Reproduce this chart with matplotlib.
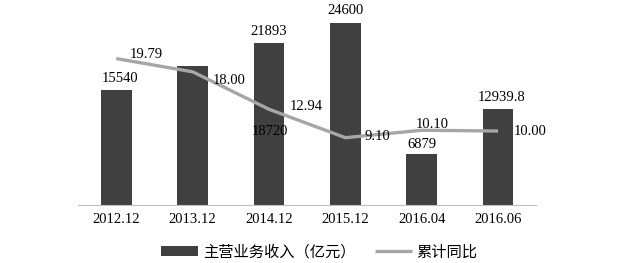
import matplotlib
matplotlib.use("Agg")
import matplotlib.pyplot as plt

plt.rcParams['font.family'] = ['Liberation Serif', 'Noto Sans CJK SC']

periods = ['2012.12', '2013.12', '2014.12', '2015.12', '2016.04', '2016.06']
revenue = [15540, 18720, 21893, 24600, 6879, 12939.8]
revenue_labels = ['15540', '18720', '21893', '24600', '6879', '12939.8']
growth = [19.79, 18.00, 12.94, 9.10, 10.10, 10.00]
growth_labels = ['19.79', '18.00', '12.94', '9.10', '10.10', '10.00']

bar_color = '#404040'
line_color = '#a6a6a6'

fig = plt.figure(figsize=(6.25, 2.63), dpi=100)
ax = fig.add_axes([0.125, 0.2205, 0.733, 0.7034])
ax2 = ax.twinx()

x = list(range(len(periods)))
bars = ax.bar(x, revenue, width=0.4, color=bar_color, label='主营业务收入（亿元）', zorder=2)
line, = ax2.plot(x, growth, color=line_color, linewidth=2.4, label='累计同比',
                 solid_capstyle='butt', zorder=3)

ax.set_xlim(-0.5, len(periods) - 0.5)
ax.set_ylim(0, 25000)
ax2.set_ylim(0, 25)

for a in (ax, ax2):
    for s in ('top', 'right', 'left'):
        a.spines[s].set_visible(False)
    a.set_yticks([])
ax2.spines['bottom'].set_visible(False)
ax.spines['bottom'].set_color('#bfbfbf')
ax.set_xticks(x)
ax.set_xticklabels(periods, fontsize=10.5)
ax.tick_params(axis='x', length=0, pad=6)

# bar value labels (pixel offsets from bar top)
bar_offsets = [(4, 12), (77, -65), (0, 12), (0, 12), (0, 10), (4, 12)]
for i, (v, t) in enumerate(zip(revenue, revenue_labels)):
    ax.annotate(t, xy=(i, v), xytext=bar_offsets[i], textcoords='offset pixels',
                ha='center', va='center', fontsize=10.5, annotation_clip=False)

# line value labels
line_offsets = [(30, 4), (37, -9), (37, 3), (32, 1), (11, 6), (32, 0)]
for i, (v, t) in enumerate(zip(growth, growth_labels)):
    ax2.annotate(t, xy=(i, v), xytext=line_offsets[i], textcoords='offset pixels',
                 ha='center', va='center', fontsize=10.5, annotation_clip=False)

fig.legend(handles=[bars, line], loc='center', bbox_to_anchor=(0.511, 0.042), ncol=2,
           frameon=False, handlelength=2.4, columnspacing=1.3,
           handletextpad=0.3, prop={'family': ['Noto Sans CJK SC'], 'size': 11})

fig.savefig('out.png', dpi=100)
